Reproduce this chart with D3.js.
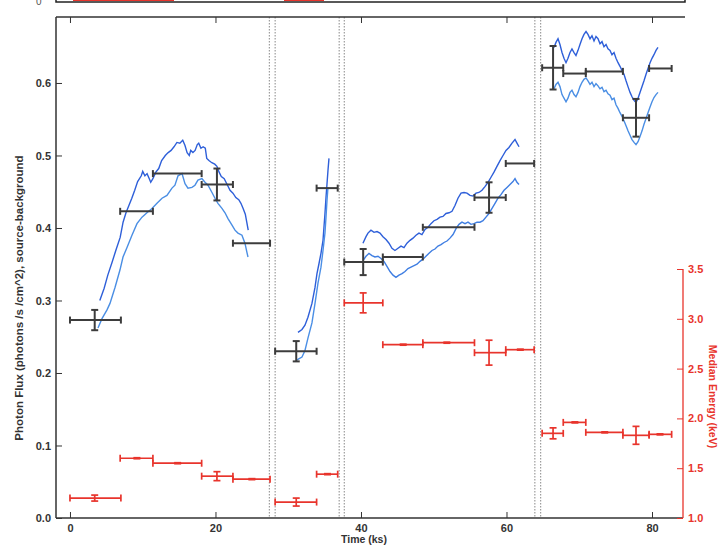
<!DOCTYPE html>
<html><head><meta charset="utf-8">
<script src="https://cdn.jsdelivr.net/npm/d3@7"></script>
<style>body{margin:0;background:#fff}svg{display:block}text{font-family:"Liberation Sans",Arial,sans-serif}</style>
</head><body>
<script>
// ---- data ----
const binStart = [0, 6.9, 11.4, 18.1, 22.4, 28.2, 33.9, 37.7, 43.0, 48.5, 55.6, 59.9, 64.9, 67.8, 70.9, 76.0, 79.6];
const binEnd   = [7.0, 11.4, 18.1, 22.4, 27.5, 33.9, 36.8, 43.0, 48.5, 55.6, 59.9, 63.8, 67.8, 70.9, 76.0, 79.6, 82.7];
const binMid   = [3.4, 9.2, 14.8, 20.2, 25.0, 31.1, 35.4, 40.3, 45.8, 51.8, 57.6, 61.9, 66.4, 69.4, 73.5, 77.8, 81.1];
const flux     = [0.273, 0.423, 0.475, 0.460, 0.379, 0.230, 0.455, 0.353, 0.360, 0.401, 0.442, 0.489, 0.621, 0.613, 0.616, 0.552, 0.620];
const fluxErr  = [0.014, 0, 0, 0.022, 0, 0.014, 0, 0.018, 0, 0, 0.021, 0, 0.030, 0, 0, 0.026, 0];
const energy   = [1.20, 1.60, 1.55, 1.42, 1.39, 1.16, 1.44, 3.16, 2.74, 2.76, 2.66, 2.69, 1.85, 1.96, 1.86, 1.83, 1.84];
const energyErr= [0.03, 0.005, 0.005, 0.045, 0.005, 0.04, 0.005, 0.10, 0.005, 0.005, 0.125, 0.005, 0.055, 0.005, 0.005, 0.09, 0.005];

const gapLines = [27.4, 28.2, 37.0, 37.7, 63.9, 64.7];

const xTicks = [0, 20, 40, 60, 80];
const fluxTicks = [0.0, 0.1, 0.2, 0.3, 0.4, 0.5, 0.6];
const energyTicks = [1.0, 1.5, 2.0, 2.5, 3.0, 3.5];

// light-curve envelopes [time ks, flux]
const seg1Upper = [[4.1,.300],[4.7,.317],[5.2,.335],[5.8,.353],[6.3,.369],[6.9,.387],[7.3,.408],[7.7,.421],[8.1,.431],[8.5,.441],[8.9,.452],[9.3,.464],[9.8,.472],[10.0,.478],[10.3,.472],[10.6,.475],[10.9,.468],[11.1,.463],[11.4,.468],[11.8,.477],[12.2,.482],[12.6,.493],[13.1,.500],[13.5,.504],[13.9,.507],[14.3,.512],[14.7,.518],[15.1,.517],[15.5,.521],[15.8,.514],[16.1,.504],[16.4,.500],[16.6,.507],[16.9,.504],[17.2,.507],[17.5,.515],[17.7,.517],[18.0,.510],[18.3,.512],[18.6,.510],[18.8,.496],[19.1,.493],[19.5,.490],[19.9,.488],[20.2,.485],[20.5,.477],[20.8,.471],[21.2,.468],[21.6,.460],[22.0,.452],[22.4,.448],[22.8,.442],[23.2,.439],[23.5,.434],[23.8,.427],[24.1,.419],[24.3,.408],[24.5,.397]];
const seg1Lower = [[3.85,.262],[4.40,.275],[5.09,.287],[5.50,.296],[6.19,.318],[6.87,.342],[7.29,.360],[7.84,.373],[8.52,.390],[9.21,.406],[9.90,.415],[10.58,.421],[11.27,.427],[11.96,.434],[12.65,.441],[13.33,.445],[14.02,.455],[14.43,.459],[14.85,.472],[15.40,.475],[15.81,.461],[16.22,.455],[16.77,.456],[17.18,.459],[17.59,.466],[18.14,.468],[18.56,.463],[18.97,.459],[19.52,.449],[19.93,.441],[20.34,.434],[20.89,.427],[21.31,.421],[21.72,.413],[22.27,.404],[22.68,.397],[23.09,.393],[23.64,.390],[24.05,.379],[24.33,.366],[24.47,.360]];
const seg2Upper = [[31.34,.256],[31.89,.260],[32.30,.266],[32.71,.277],[33.26,.296],[33.68,.318],[33.95,.337],[34.23,.351],[34.50,.365],[34.78,.383],[34.91,.401],[35.05,.420],[35.19,.442],[35.33,.461],[35.46,.479],[35.60,.496]];
const seg2Lower = [[31.20,.218],[31.89,.222],[32.30,.231],[32.71,.248],[33.26,.269],[33.68,.296],[34.09,.324],[34.50,.346],[34.78,.369],[35.05,.393],[35.19,.415],[35.33,.438],[35.46,.456]];
const seg3Upper = [[40.27,.379],[40.69,.388],[40.96,.393],[41.37,.397],[41.79,.394],[42.20,.395],[42.61,.393],[43.02,.388],[43.44,.384],[43.85,.379],[44.26,.372],[44.67,.369],[45.09,.372],[45.50,.375],[45.91,.373],[46.32,.379],[46.74,.383],[47.15,.386],[47.56,.390],[47.97,.393],[48.38,.391],[48.80,.398],[49.21,.401],[49.62,.406],[50.03,.410],[50.45,.412],[50.86,.415],[51.27,.416],[51.68,.420],[52.10,.421],[52.51,.423],[52.92,.431],[53.33,.441],[53.75,.448],[54.16,.449],[54.57,.448],[54.98,.445],[55.40,.444],[55.81,.448],[56.22,.449],[56.63,.452],[57.04,.457],[57.46,.463],[57.87,.470],[58.28,.477],[58.69,.485],[59.11,.493],[59.52,.500],[59.93,.507],[60.34,.511],[60.76,.517],[61.17,.522],[61.44,.517],[61.72,.512]];
const seg3Lower = [[40.27,.355],[40.69,.361],[41.10,.365],[41.51,.362],[41.92,.360],[42.34,.361],[42.75,.358],[43.16,.354],[43.57,.347],[43.99,.340],[44.40,.335],[44.81,.332],[45.22,.335],[45.64,.337],[46.05,.340],[46.46,.344],[46.87,.346],[47.29,.348],[47.70,.350],[48.11,.354],[48.52,.357],[48.93,.361],[49.35,.365],[49.76,.369],[50.17,.371],[50.58,.375],[51.00,.377],[51.41,.380],[51.82,.382],[52.23,.386],[52.65,.391],[53.06,.399],[53.47,.405],[53.88,.408],[54.30,.406],[54.71,.408],[55.12,.405],[55.53,.406],[55.95,.408],[56.36,.408],[56.77,.410],[57.18,.415],[57.59,.420],[58.01,.427],[58.42,.434],[58.83,.441],[59.24,.446],[59.66,.452],[60.07,.456],[60.48,.460],[60.89,.464],[61.17,.468],[61.44,.463],[61.72,.460]];
const seg4Time  = [66.53,66.80,67.08,67.35,67.63,67.90,68.18,68.45,68.73,69.00,69.28,69.55,69.83,70.10,70.38,70.65,70.93,71.20,71.48,71.75,72.03,72.30,72.58,72.85,73.13,73.40,73.68,73.95,74.23,74.50,74.78,75.05,75.33,75.60,75.88,76.15,76.43,76.70,76.98,77.25,77.53,77.80,78.08,78.35,78.63,78.90,79.18,79.45,79.73,80.00,80.27,80.55,80.82];
const seg4UpperFlux = [.649,.656,.661,.653,.642,.634,.628,.634,.642,.647,.642,.638,.645,.653,.661,.667,.671,.667,.661,.665,.658,.664,.661,.654,.657,.650,.653,.647,.645,.639,.642,.634,.628,.623,.617,.612,.603,.595,.587,.581,.576,.573,.579,.587,.595,.603,.612,.620,.628,.634,.639,.645,.649];
const seg4LowerFlux = [.592,.598,.601,.595,.584,.579,.574,.579,.587,.590,.584,.581,.587,.595,.601,.605,.607,.603,.598,.601,.595,.599,.596,.592,.594,.588,.590,.585,.583,.577,.579,.570,.565,.559,.554,.548,.541,.534,.528,.522,.518,.515,.519,.526,.534,.543,.551,.559,.567,.574,.580,.584,.587];

// ---- layout ----
const W = 718, H = 547;
const L = 56, R = 683, T = 17, B = 518;
const svg = d3.select("body").append("svg").attr("width", W).attr("height", H);

const x = d3.scaleLinear().domain([-1.92, 84.26]).range([L, R]);
const y = d3.scaleLinear().domain([0, 0.691]).range([B, T]);
const yE = d3.scaleLinear().domain([1.0, 3.5]).range([B, 269]);

const axisColor = "#333";
const red = "#e8342c";
const gray = "#3c3c3c";

// clipped strip of the panel above
svg.append("rect").attr("x", L).attr("y", -8).attr("width", R - L + 2).attr("height", 10)
  .attr("fill", "none").attr("stroke", "#222").attr("stroke-width", 1.5);
svg.append("rect").attr("x", 73).attr("y", -8).attr("width", 101).attr("height", 9).attr("fill", red);
svg.append("rect").attr("x", 284).attr("y", -8).attr("width", 40).attr("height", 9).attr("fill", red);
svg.append("text").attr("x", 36).attr("y", 5).attr("font-size", 10).attr("fill", "#555").text("0");

// gap (dotted) lines
svg.append("g").selectAll("line").data(gapLines).join("line")
  .attr("x1", d => x(d)).attr("x2", d => x(d)).attr("y1", T).attr("y2", B)
  .attr("stroke", "#888").attr("stroke-width", 1).attr("stroke-dasharray", "1.5,1.5");

// axes
function styleAxis(g, color) {
  g.selectAll("path,line").attr("stroke", color);
  g.selectAll("text").attr("fill", color).attr("font-size", 11).attr("font-weight", "bold");
}
// bottom
const gb = svg.append("g").attr("transform", `translate(0,${B})`);
gb.call(d3.axisBottom(x).tickValues(d3.range(0, 85, 5)).tickSize(-3).tickFormat("")).call(g => g.select(".domain").remove());
gb.call(d3.axisBottom(x).tickValues(xTicks).tickSizeInner(-6).tickSizeOuter(0).tickPadding(6).tickFormat(d3.format("d")));
gb.select(".domain").attr("d", `M${L},0H${R}`);
styleAxis(gb, axisColor);
gb.selectAll("path").attr("stroke-width", 1.5);
// top
const gt = svg.append("g").attr("transform", `translate(0,${T})`);
gt.call(d3.axisTop(x).tickValues(d3.range(0, 85, 5)).tickSize(-3).tickFormat("")).call(g => g.select(".domain").remove());
gt.call(d3.axisTop(x).tickValues(xTicks).tickSizeInner(-6).tickSizeOuter(0).tickFormat(""));
gt.select(".domain").attr("d", `M${L},0H${R + 2}`);
styleAxis(gt, axisColor);
gt.selectAll("path").attr("stroke-width", 1.5);
// left
const gl = svg.append("g").attr("transform", `translate(${L},0)`);
gl.call(d3.axisLeft(y).tickValues(d3.range(0, 0.69, 0.02)).tickSize(-3).tickFormat("")).call(g => g.select(".domain").remove());
gl.call(d3.axisLeft(y).tickValues(fluxTicks).tickSizeInner(-6).tickSizeOuter(0).tickPadding(5).tickFormat(d3.format(".1f")));
gl.select(".domain").attr("d", `M0,${T}V${B}`);
styleAxis(gl, axisColor);
gl.selectAll("path").attr("stroke-width", 1.5);
// right (energy)
const gr = svg.append("g").attr("transform", `translate(${R},0)`);
gr.call(d3.axisRight(yE).tickValues(d3.range(1.0, 3.51, 0.1)).tickSize(-3).tickFormat("")).call(g => g.select(".domain").remove());
gr.call(d3.axisRight(yE).tickValues(energyTicks).tickSizeInner(-6).tickSizeOuter(0).tickPadding(5).tickFormat(d3.format(".1f")));
gr.select(".domain").attr("d", `M0,${yE(3.5)}V${B}`);
styleAxis(gr, red);
gr.selectAll("path").attr("stroke-width", 1.3);

// titles
svg.append("text").attr("x", x(40) + 3).attr("y", 543).attr("text-anchor", "middle")
  .attr("font-size", 10.5).attr("font-weight", "bold").attr("fill", "#333").text("Time (ks)");
svg.append("text").attr("transform", `translate(23,298) rotate(-90)`).attr("text-anchor", "middle")
  .attr("font-size", 11.5).attr("font-weight", "bold").attr("fill", "#333")
  .text("Photon Flux (photons /s /cm^2), source-background");
svg.append("text").attr("transform", `translate(709,${(yE(3.5) + B) / 2 + 3}) rotate(90)`).attr("text-anchor", "middle")
  .attr("font-size", 10.5).attr("font-weight", "bold").attr("fill", red).text("Median Energy (keV)");

// light curves
const line = d3.line().x(d => x(d[0])).y(d => y(d[1]));
const seg4Upper = seg4Time.map((t, i) => [t, seg4UpperFlux[i]]);
const seg4Lower = seg4Time.map((t, i) => [t, seg4LowerFlux[i]]);
const curves = [
  [seg1Upper, "#2e5fd9"], [seg1Lower, "#4a8ee4"],
  [seg2Upper, "#2e5fd9"], [seg2Lower, "#4b8fe6"],
  [seg3Upper, "#2e5fd9"], [seg3Lower, "#3f7ee2"],
  [seg4Upper, "#2e5fd9"], [seg4Lower, "#4a8ee4"]
];
svg.append("g").selectAll("path").data(curves).join("path")
  .attr("d", d => line(d[0])).attr("fill", "none").attr("stroke", d => d[1]).attr("stroke-width", 1.4);

// error bars
function errorBars(vals, errs, scale, color, cls, sw) {
  const g = svg.append("g").attr("class", cls).attr("stroke", color).attr("stroke-width", sw).attr("fill", "none");
  const idx = d3.range(vals.length);
  g.selectAll(".h").data(idx).join("line").attr("class", "h")
    .attr("x1", i => x(binStart[i])).attr("x2", i => x(binEnd[i]))
    .attr("y1", i => scale(vals[i])).attr("y2", i => scale(vals[i]));
  g.selectAll(".c1").data(idx).join("line").attr("class", "c1")
    .attr("x1", i => x(binStart[i])).attr("x2", i => x(binStart[i]))
    .attr("y1", i => scale(vals[i]) - 3.5).attr("y2", i => scale(vals[i]) + 3.5);
  g.selectAll(".c2").data(idx).join("line").attr("class", "c2")
    .attr("x1", i => x(binEnd[i])).attr("x2", i => x(binEnd[i]))
    .attr("y1", i => scale(vals[i]) - 3.5).attr("y2", i => scale(vals[i]) + 3.5);
  const withErr = idx.filter(i => errs[i] > 0);
  g.selectAll(".v").data(withErr).join("line").attr("class", "v")
    .attr("x1", i => x(binMid[i])).attr("x2", i => x(binMid[i]))
    .attr("y1", i => scale(vals[i] - errs[i])).attr("y2", i => scale(vals[i] + errs[i]));
  g.selectAll(".vt").data(withErr).join("line").attr("class", "vt")
    .attr("x1", i => x(binMid[i]) - 3.5).attr("x2", i => x(binMid[i]) + 3.5)
    .attr("y1", i => scale(vals[i] + errs[i])).attr("y2", i => scale(vals[i] + errs[i]));
  g.selectAll(".vb").data(withErr).join("line").attr("class", "vb")
    .attr("x1", i => x(binMid[i]) - 3.5).attr("x2", i => x(binMid[i]) + 3.5)
    .attr("y1", i => scale(vals[i] - errs[i])).attr("y2", i => scale(vals[i] - errs[i]));
}
errorBars(energy, energyErr, yE, red, "energy", 1.7);
errorBars(flux, fluxErr, y, gray, "flux", 2);
</script>
</body></html>
